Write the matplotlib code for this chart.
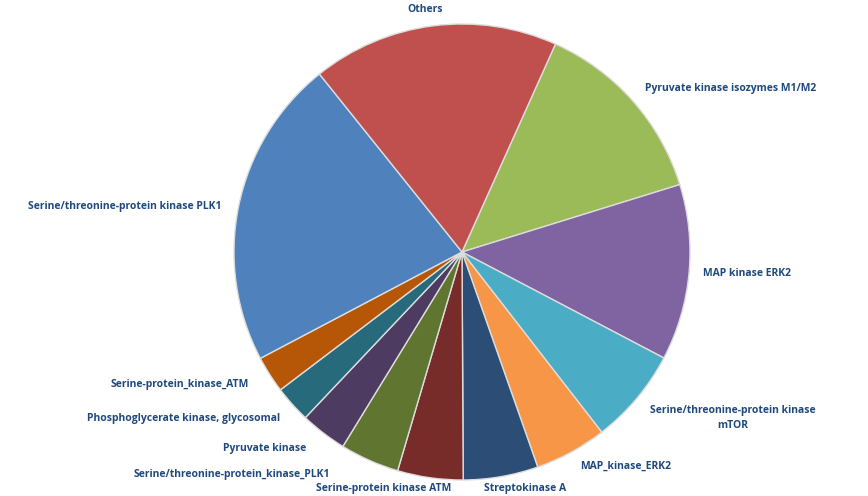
import matplotlib.pyplot as plt

labels = ['Pyruvate kinase isozymes M1/M2', 'MAP kinase ERK2', 'Serine/threonine-protein kinase\nmTOR',
          'MAP_kinase_ERK2', 'Streptokinase A', 'Serine-protein kinase ATM',
          'Serine/threonine-protein_kinase_PLK1', 'Pyruvate kinase',
          'Phosphoglycerate kinase, glycosomal', 'Serine-protein_kinase_ATM',
          'Serine/threonine-protein kinase PLK1', 'Others']
values = [48.6, 44.9, 24.5, 18.4, 19.1, 16.7, 15.1, 11.9, 9.4, 9.4, 79.1, 62.9]
colors = ['#9BBB59', '#8064A2', '#4BACC6', '#F79646', '#2C4D75', '#772C2A',
          '#5F7530', '#4D3B62', '#276A7C', '#B65708', '#4F81BD', '#C0504D']
# label anchor positions in pixels (x, y from top), horizontal alignment
label_pos = [(645, 88, 'left'), (703, 273, 'left'), (733, 418, 'center'), (580, 466, 'left'),
             (525, 489, 'center'), (384, 489, 'center'), (232, 475, 'center'),
             (265, 448, 'center'), (184, 418, 'center'), (180, 384, 'center'),
             (125, 206, 'center'), (425, 10, 'center')]

W, H = 868, 496
fig = plt.figure(figsize=(W / 100, H / 100), dpi=100)
ax = fig.add_axes([0, 0, 1, 1])
ax.pie(values, colors=colors, counterclock=False, startangle=65.8,
       center=(462, H - 252), radius=228,
       wedgeprops=dict(edgecolor='#dddddd', linewidth=1))
ax.set_xlim(0, W)
ax.set_ylim(0, H)
ax.set_aspect('equal')
ax.axis('off')
for lab, (x, y, ha) in zip(labels, label_pos):
    ax.text(x, H - y, lab, ha=ha, va='center', fontsize=7.5, fontweight='bold',
            color='#1F497D', family='Open Sans', linespacing=1.6)
fig.savefig('out.png', dpi=100)
